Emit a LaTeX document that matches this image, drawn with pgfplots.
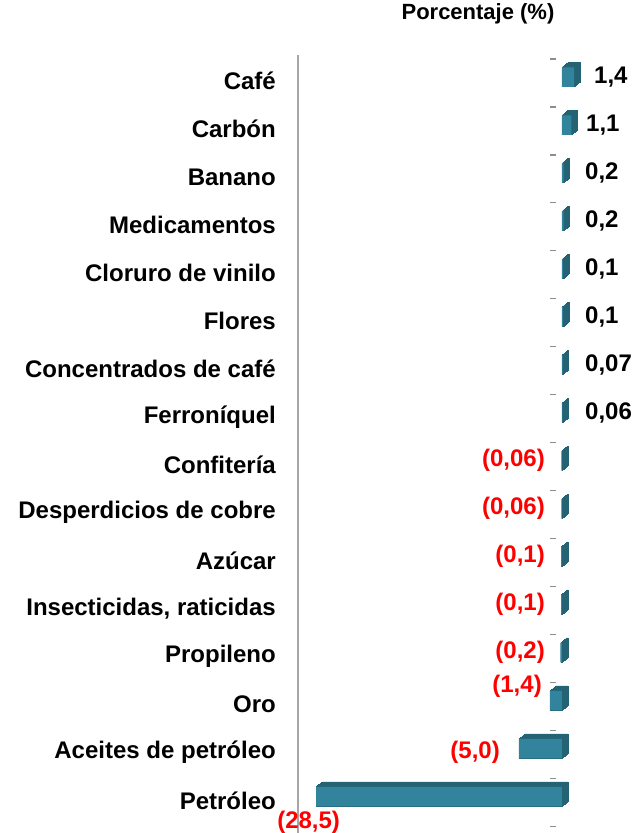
\documentclass[border=0pt]{standalone}
\usepackage{pgfplots}
\pgfplotsset{compat=1.18}
\usepackage{pgfplotstable}
\usepackage{fontspec}
\setmainfont{Liberation Sans}
\definecolor{barfront}{HTML}{31849B}
\definecolor{barside}{HTML}{246374}
\definecolor{axgray}{HTML}{A6A6A6}
\definecolor{dashgray}{HTML}{8C8C8C}
\definecolor{lblred}{HTML}{FF0000}

\pgfplotstableread{
idx val
0 1.4
1 1.1
2 0.2
3 0.2
4 0.1
5 0.1
6 0.07
7 0.06
8 -0.06
9 -0.06
10 -0.1
11 -0.1
12 -0.2
13 -1.4
14 -5.0
15 -28.5
}\bars

\pgfplotstableread{
x y lab
3.71 0 1,4
2.78 1 1,1
2.67 2 0,2
2.67 3 0,2
2.67 4 0,1
2.67 5 0,1
2.67 6 0,07
2.67 7 0,06
}\poslabels

\pgfplotstableread{
x y lab
-1.97 8 (0,06)
-1.97 9 (0,06)
-1.97 10 (0,1)
-1.97 11 (0,1)
-1.97 12 (0,2)
-2.32 12.70 (1,4)
-7.18 14.07 (5,0)
-25.7 15.53 (28,5)
}\neglabels

\pgfplotstableread{
x y
-1.04 -0.38
-1.04 0.62
-1.04 1.62
-1.04 2.62
-1.04 3.62
-1.04 4.62
-1.04 5.62
-1.04 6.62
-1.04 7.62
-1.04 8.62
-1.04 9.62
-1.04 10.62
-1.04 11.62
-1.04 12.62
-1.04 13.62
-1.04 14.62
-1.04 15.62
}\dashes

\begin{document}
\begin{tikzpicture}
\useasboundingbox (0,0) rectangle (634pt,833pt);
\begin{axis}[
  at={(298pt,0pt)}, anchor=south west,
  scale only axis,
  width=298.5pt, height=778pt,
  xmin=-30.59, xmax=4,
  ymin=-0.46, ymax=15.76,
  y dir=reverse,
  clip=false,
  axis x line=none,
  axis y line*=left,
  y axis line style={draw=axgray, line width=1.2pt},
  xtick=\empty,
  ytick={0,...,15},
  yticklabels={Café,Carbón,Banano,Medicamentos,Cloruro de vinilo,Flores,Concentrados de café,Ferroníquel,Confitería,Desperdicios de cobre,Azúcar,{Insecticidas, raticidas},Propileno,Oro,Aceites de petróleo,Petróleo},
  major tick length=0pt,
  yticklabel style={font=\fontsize{24}{28}\selectfont\bfseries, inner sep=0pt, anchor=east, xshift=-22pt, yshift=-4pt},
  title={Porcentaje (\%)},
  title style={at={(0.603,1)}, anchor=center, yshift=35pt, font=\fontsize{22}{26}\selectfont\bfseries},
]
% depth (side/top faces): extruded copies
\pgfplotsinvokeforeach{0.5,1,1.5,2,2.5,3,3.5,4,4.5,5,5.5,6}{
  \addplot[xbar, bar width=19.5pt, fill=barside, draw=barside, line width=0.5pt, xshift=#1pt, yshift=#1*0.83pt] table[x=val, y=idx] {\bars};
}
% front faces
\addplot[xbar, bar width=19.5pt, fill=barfront, draw=none] table[x=val, y=idx] {\bars};
% category tick dashes
\addplot[only marks, mark=-, mark size=3pt, draw=dashgray, line width=1.5pt] table[x=x, y=y] {\dashes};
% value labels
\addplot[draw=none, mark=none, nodes near coords, point meta=explicit symbolic,
  every node near coord/.style={anchor=west, inner sep=0pt, font=\fontsize{24}{28}\selectfont\bfseries, text=black}]
  table[x=x, y=y, meta=lab] {\poslabels};
\addplot[draw=none, mark=none, nodes near coords, point meta=explicit symbolic,
  every node near coord/.style={anchor=east, inner sep=0pt, font=\fontsize{24}{28}\selectfont\bfseries, text=lblred}]
  table[x=x, y=y, meta=lab] {\neglabels};
\end{axis}
\end{tikzpicture}
\end{document}
